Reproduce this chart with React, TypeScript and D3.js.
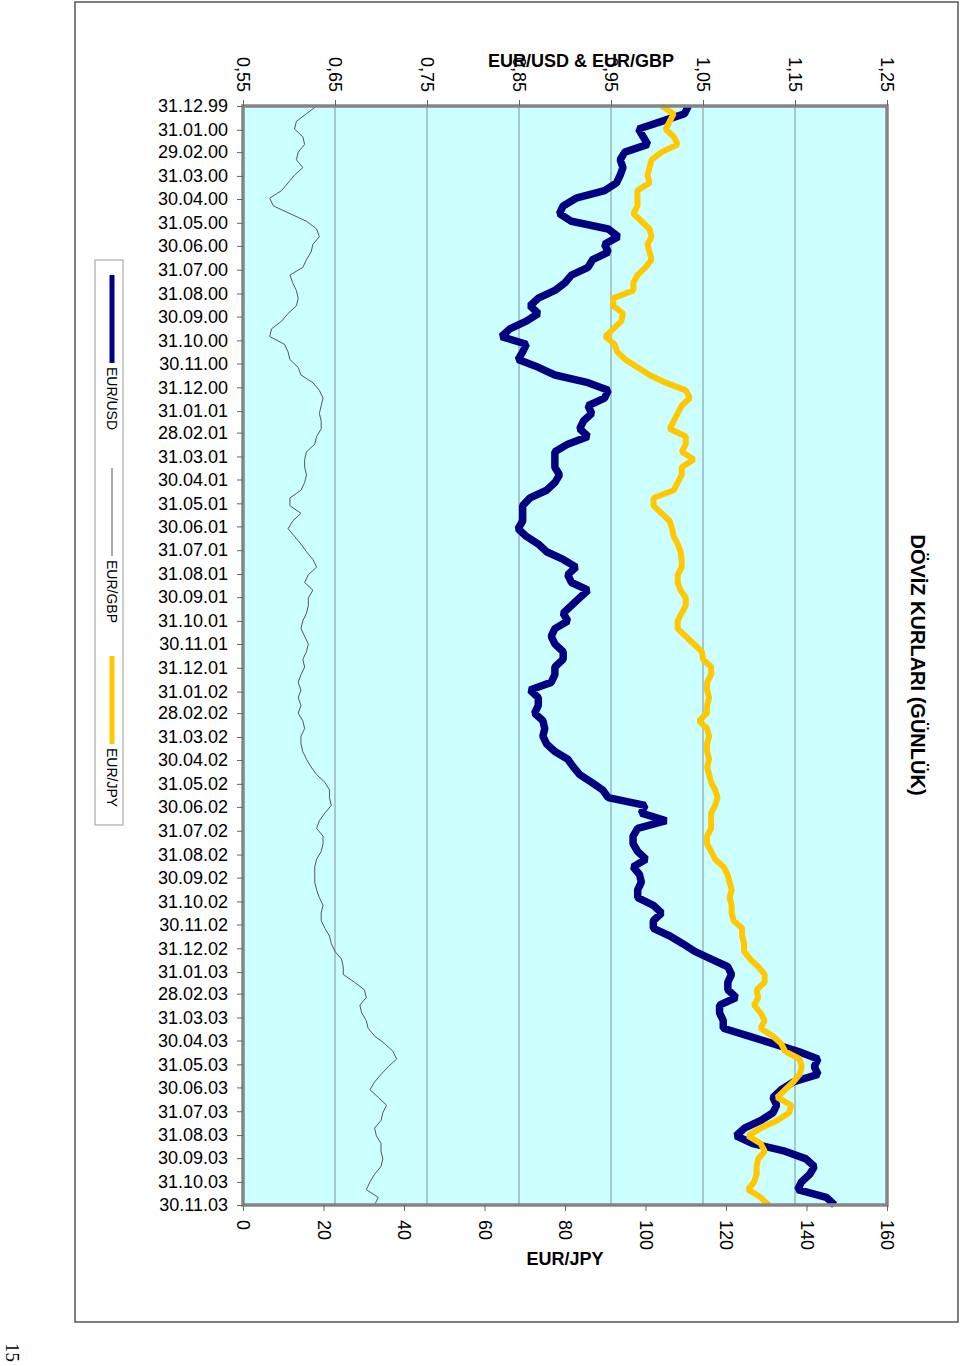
import React, { useEffect, useRef } from 'react';
import * as d3 from 'd3';

const startDate = new Date(1999, 11, 31);
const endDate = new Date(2003, 10, 30);
const stepDays = 10;

const eurUsd = [
    1.034, 1.030, 1.005, 0.980, 0.985, 0.990, 0.965, 0.960, 0.963, 0.960, 0.956, 0.943,
    0.912, 0.898, 0.894, 0.907, 0.947, 0.958, 0.943, 0.947, 0.930, 0.925, 0.907, 0.900,
    0.889, 0.871, 0.862, 0.871, 0.858, 0.840, 0.831, 0.858, 0.854, 0.849, 0.871, 0.889,
    0.925, 0.947, 0.943, 0.925, 0.929, 0.920, 0.916, 0.925, 0.903, 0.889, 0.889, 0.889,
    0.894, 0.889, 0.880, 0.862, 0.854, 0.854, 0.854, 0.849, 0.858, 0.871, 0.880, 0.898,
    0.912, 0.903, 0.907, 0.925, 0.916, 0.907, 0.898, 0.903, 0.889, 0.885, 0.889, 0.898,
    0.898, 0.889, 0.889, 0.885, 0.862, 0.871, 0.871, 0.867, 0.876, 0.878, 0.876, 0.880,
    0.889, 0.903, 0.909, 0.916, 0.929, 0.941, 0.947, 0.987, 0.983, 1.010, 0.979, 0.974,
    0.974, 0.979, 0.988, 0.974, 0.981, 0.983, 0.979, 0.979, 0.996, 1.005, 0.996, 0.996,
    1.014, 1.028, 1.041, 1.059, 1.077, 1.081, 1.077, 1.077, 1.086, 1.068, 1.068, 1.072,
    1.072, 1.099, 1.126, 1.153, 1.175, 1.171, 1.175, 1.148, 1.135, 1.126, 1.130, 1.126,
    1.113, 1.095, 1.086, 1.104, 1.139, 1.162, 1.171, 1.166, 1.157, 1.153, 1.184, 1.193
];

const eurGbp = [
    0.630, 0.619, 0.608, 0.606, 0.615, 0.617, 0.610, 0.608, 0.615, 0.606, 0.599, 0.592,
    0.579, 0.583, 0.601, 0.619, 0.630, 0.633, 0.626, 0.624, 0.619, 0.615, 0.601, 0.604,
    0.608, 0.610, 0.608, 0.599, 0.592, 0.581, 0.579, 0.595, 0.599, 0.601, 0.610, 0.613,
    0.626, 0.633, 0.637, 0.635, 0.633, 0.635, 0.635, 0.630, 0.628, 0.619, 0.617, 0.617,
    0.619, 0.617, 0.613, 0.601, 0.601, 0.613, 0.604, 0.599, 0.606, 0.613, 0.619, 0.626,
    0.630, 0.621, 0.617, 0.626, 0.621, 0.621, 0.619, 0.615, 0.613, 0.617, 0.621, 0.619,
    0.615, 0.617, 0.613, 0.610, 0.613, 0.610, 0.613, 0.610, 0.615, 0.617, 0.613, 0.613,
    0.615, 0.619, 0.624, 0.630, 0.639, 0.644, 0.644, 0.646, 0.639, 0.633, 0.630, 0.637,
    0.637, 0.635, 0.630, 0.628, 0.628, 0.628, 0.630, 0.633, 0.637, 0.635, 0.635, 0.639,
    0.644, 0.646, 0.650, 0.657, 0.659, 0.659, 0.671, 0.682, 0.684, 0.677, 0.679, 0.684,
    0.686, 0.693, 0.704, 0.713, 0.717, 0.708, 0.700, 0.693, 0.688, 0.697, 0.706, 0.702,
    0.700, 0.693, 0.695, 0.700, 0.700, 0.702, 0.700, 0.693, 0.688, 0.684, 0.697, 0.693
];

const eurJpy = [
    104, 107, 106, 105, 107, 108, 104, 101.5, 101, 100.5, 101, 98,
    98, 98, 97, 99, 101, 101.5, 100.5, 101, 101.5, 100, 98, 97,
    97, 92, 92, 94.4, 94, 92, 90, 92.3, 93, 95, 98, 101,
    105, 110, 111, 109, 108, 107, 106, 110, 110, 109, 112, 109,
    109, 108, 107, 102, 102, 104, 106, 106.6, 107, 108, 108.7, 109,
    109, 108, 108, 108.7, 110, 110, 109, 108, 108, 110, 112, 114,
    114.3, 116.3, 116.3, 115.3, 115.3, 115.8, 115.3, 115.3, 113.3, 115.3, 115.8, 115.3,
    115.3, 115.8, 115.3, 115.8, 116.3, 117.3, 117.9, 117.3, 116.3, 116.3, 116.3, 115.3,
    115.3, 116.3, 117.3, 119.4, 120.4, 120.9, 121.4, 120.9, 121.4, 121.4, 121.9, 124,
    124, 124.5, 124.5, 126, 128, 129.6, 129.6, 127.6, 128, 127, 128.6, 129.6,
    128.6, 131.6, 133.7, 134.7, 138.3, 138.8, 138.3, 136.7, 134.7, 132.7, 136.2, 135.7,
    132.7, 128.6, 125.5, 128.6, 129.6, 128, 127.6, 127.6, 127, 125.5, 128.6, 130.6
];

const leftTicks = [0.55, 0.65, 0.75, 0.85, 0.95, 1.05, 1.15, 1.25];
const rightTicks = [0, 20, 40, 60, 80, 100, 120, 140, 160];
const seriesNames = ['EUR/USD', 'EUR/GBP', 'EUR/JPY'];
const seriesColors = ['#000080', '#555555', '#ffc800'];

const App = () => {
    const svgRef = useRef(null);

    useEffect(() => {
        const svg = d3.select(svgRef.current);
        svg.selectAll('*').remove();

        const font = 'Arial, "Liberation Sans", sans-serif';
        const plot = { left: 243, right: 887, top: 106, bottom: 1205 };

        // chart is printed turned on its side: time runs down, values run right
        const yTime = d3.scaleTime().domain([startDate, endDate]).range([plot.top, plot.bottom]);
        const xLeft = d3.scaleLinear().domain([0.55, 1.25]).range([plot.left, plot.right]);
        const xRight = d3.scaleLinear().domain([0, 160]).range([plot.left, plot.right]);

        const dates = eurUsd.map((_, i) => d3.timeDay.offset(startDate, i * stepDays));
        // last day of each month, 31.12.99 .. 30.11.03
        const monthEnds = d3.timeMonth.range(new Date(2000, 0, 1), new Date(2003, 11, 2))
            .map(d => d3.timeDay.offset(d, -1));

        // outer frame
        svg.append('rect')
            .attr('x', 75).attr('y', 2)
            .attr('width', 883).attr('height', 1320)
            .attr('fill', '#fff')
            .attr('stroke', '#555')
            .attr('stroke-width', 1.5);

        // plot area
        svg.append('rect')
            .attr('x', plot.left).attr('y', plot.top)
            .attr('width', plot.right - plot.left)
            .attr('height', plot.bottom - plot.top)
            .attr('fill', '#ccffff');

        svg.append('g')
            .selectAll('line')
            .data(leftTicks.slice(1, -1))
            .enter()
            .append('line')
            .attr('x1', d => xLeft(d)).attr('x2', d => xLeft(d))
            .attr('y1', plot.top).attr('y2', plot.bottom)
            .attr('stroke', '#80909a')
            .attr('stroke-width', 1);

        const lineLeft = d3.line()
            .x(d => xLeft(d[1]))
            .y(d => yTime(d[0]));
        const lineRight = d3.line()
            .x(d => xRight(d[1]))
            .y(d => yTime(d[0]));

        svg.append('path')
            .datum(dates.map((d, i) => [d, eurGbp[i]]))
            .attr('fill', 'none')
            .attr('stroke', seriesColors[1])
            .attr('stroke-width', 1)
            .attr('d', lineLeft);

        svg.append('path')
            .datum(dates.map((d, i) => [d, eurUsd[i]]))
            .attr('fill', 'none')
            .attr('stroke', seriesColors[0])
            .attr('stroke-width', 7.5)
            .attr('stroke-linejoin', 'bevel')
            .attr('d', lineLeft);

        svg.append('path')
            .datum(dates.map((d, i) => [d, eurJpy[i]]))
            .attr('fill', 'none')
            .attr('stroke', seriesColors[2])
            .attr('stroke-width', 6)
            .attr('stroke-linejoin', 'bevel')
            .attr('d', lineRight);

        // plot border
        svg.append('rect')
            .attr('x', plot.left).attr('y', plot.top)
            .attr('width', plot.right - plot.left)
            .attr('height', plot.bottom - plot.top)
            .attr('fill', 'none')
            .attr('stroke', '#858585')
            .attr('stroke-width', 3.5);

        // top axis (EUR/USD & EUR/GBP)
        const topAxis = svg.append('g')
            .attr('transform', `translate(0,${plot.top})`)
            .call(d3.axisTop(xLeft)
                .tickValues(leftTicks)
                .tickFormat(d => d3.format('.2f')(d).replace('.', ','))
                .tickSize(6));
        topAxis.selectAll('text')
            .attr('transform', 'rotate(90)')
            .attr('x', -14).attr('y', 0)
            .attr('dy', '0.35em')
            .attr('text-anchor', 'end');

        // bottom axis (EUR/JPY)
        const bottomAxis = svg.append('g')
            .attr('transform', `translate(0,${plot.bottom})`)
            .call(d3.axisBottom(xRight).tickValues(rightTicks).tickSize(6));
        bottomAxis.selectAll('text')
            .attr('transform', 'rotate(90)')
            .attr('x', 15).attr('y', 0)
            .attr('dy', '0.35em')
            .attr('text-anchor', 'start');

        // date axis
        const dateAxis = svg.append('g')
            .attr('transform', `translate(${plot.left},0)`)
            .call(d3.axisLeft(yTime)
                .tickValues(monthEnds)
                .tickFormat(d3.timeFormat('%d.%m.%y'))
                .tickSize(6)
                .tickPadding(9));

        [topAxis, bottomAxis, dateAxis].forEach(g => {
            g.select('.domain').remove();
            g.attr('font-family', font).attr('font-size', 18);
            g.selectAll('line').attr('stroke', '#666');
            g.selectAll('text').attr('fill', '#000');
        });

        // axis titles
        svg.append('text')
            .attr('x', 581).attr('y', 67)
            .attr('text-anchor', 'middle')
            .attr('font-family', font)
            .attr('font-size', 18)
            .attr('font-weight', 'bold')
            .text('EUR/USD & EUR/GBP');

        svg.append('text')
            .attr('x', 565).attr('y', 1265)
            .attr('text-anchor', 'middle')
            .attr('font-family', font)
            .attr('font-size', 18)
            .attr('font-weight', 'bold')
            .text('EUR/JPY');

        // title
        svg.append('text')
            .attr('transform', 'translate(911,665) rotate(90)')
            .attr('text-anchor', 'middle')
            .attr('font-family', font)
            .attr('font-size', 20)
            .attr('font-weight', 'bold')
            .text('DÖVİZ KURLARI (GÜNLÜK)');

        // legend
        svg.append('rect')
            .attr('x', 95).attr('y', 260)
            .attr('width', 28).attr('height', 565)
            .attr('fill', '#fff')
            .attr('stroke', '#999')
            .attr('stroke-width', 1);

        const legendTop = [275, 468, 656];
        const legendWidths = [5, 1, 5];
        seriesNames.forEach((name, i) => {
            svg.append('line')
                .attr('x1', 112).attr('x2', 112)
                .attr('y1', legendTop[i]).attr('y2', legendTop[i] + 88)
                .attr('stroke', seriesColors[i])
                .attr('stroke-width', legendWidths[i]);
            svg.append('text')
                .attr('transform', `translate(107,${legendTop[i] + 92}) rotate(90)`)
                .attr('font-family', font)
                .attr('font-size', 14)
                .text(name);
        });

        // page number
        svg.append('text')
            .attr('transform', 'translate(6,1343) rotate(90)')
            .attr('font-family', 'serif')
            .attr('font-size', 19)
            .text('15');

    }, []);

    return (
        <svg ref={svgRef} width={960} height={1366}
            style={{ position: 'absolute', left: 0, top: 0 }} />
    );
};

export default App;
